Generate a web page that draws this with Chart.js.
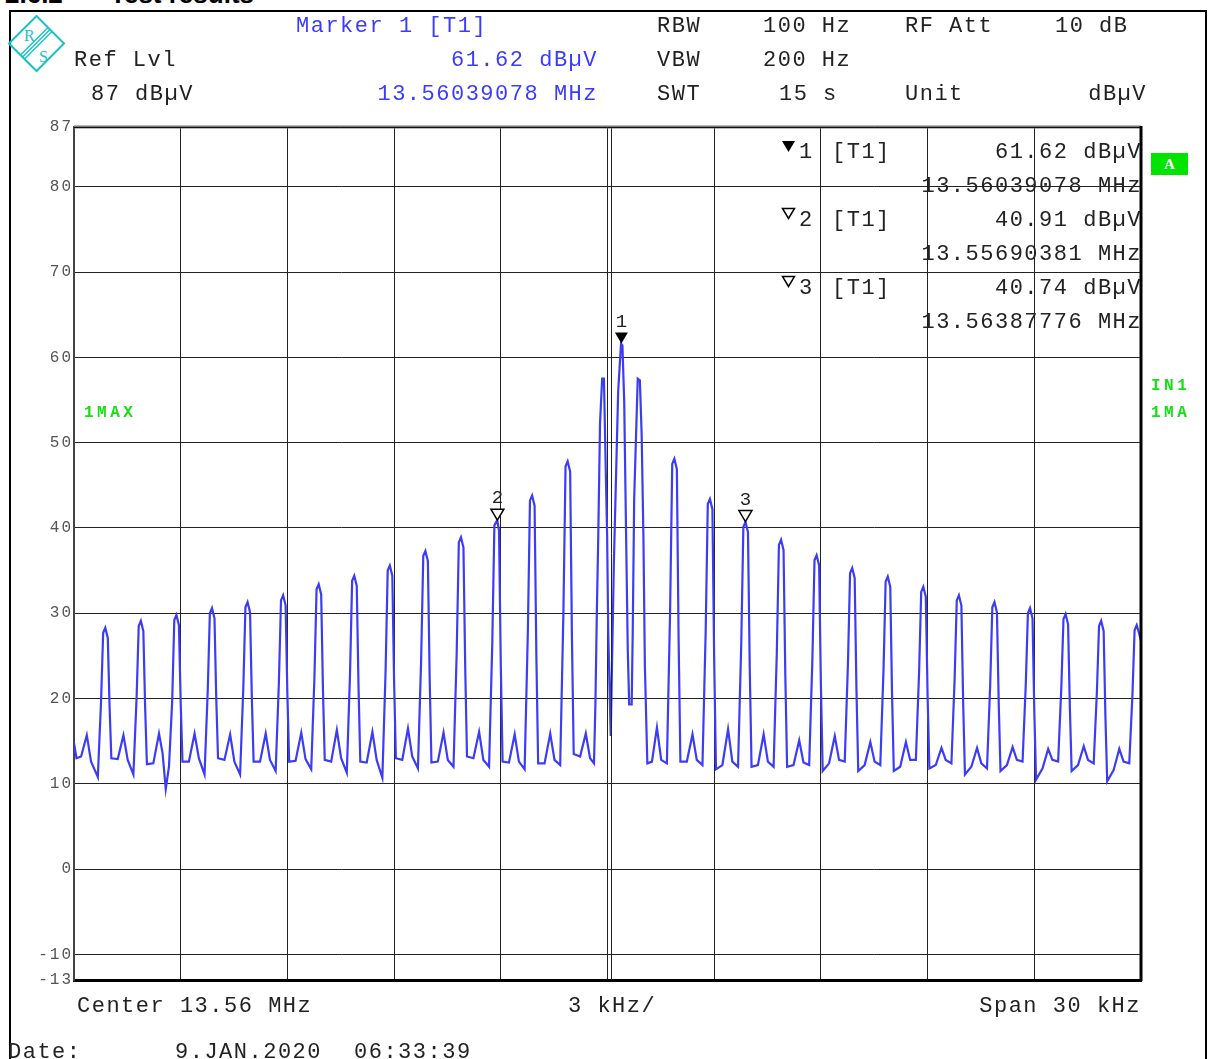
<!DOCTYPE html>
<html>
<head>
<meta charset="utf-8">
<title>Spectrum 13.56 MHz</title>
<script src="https://cdn.jsdelivr.net/npm/chart.js@4.4.1/dist/chart.umd.min.js"></script>
<style>
  body { margin: 0; background: #fff; width: 1211px; height: 1059px; overflow: hidden; position: relative; }
  #wrap { position: absolute; left: 0; top: 0; width: 1211px; height: 1059px; }
  .frame { position: absolute; left: 9px; top: 10px; width: 1194px; height: 1100px; border: 2px solid #000; }
  .title { position: absolute; top: -19px; font-family: 'Liberation Sans', Arial, sans-serif; font-weight: bold; font-size: 26px; line-height: 26px; color: #000; white-space: pre; }
  .t { position: absolute; font-family: 'Liberation Mono', monospace; font-size: 22px; letter-spacing: 1.5px; line-height: 22px; color: #222; white-space: pre; }
  .blue { color: #3b3bff; }
  .g { position: absolute; font-family: 'Liberation Mono', monospace; font-weight: bold; font-size: 16px; letter-spacing: 3.5px; line-height: 16px; color: #14e014; white-space: pre; }
  .abox { position: absolute; left: 1151px; top: 153px; width: 37px; height: 22px; background: #00e400; color: #fff; font-family: 'Liberation Serif', serif; font-weight: bold; font-size: 15px; line-height: 22px; text-align: center; }
  svg.tri { position: absolute; }
</style>
</head>
<body>
<div class="frame"></div>
<div class="title" style="left:5px">2.6.2</div>
<div class="title" style="left:110px">Test results</div>

<svg style="position:absolute;left:8px;top:15px" width="58" height="58" viewBox="0 0 58 58">
  <polygon points="28.5,1 56,28.5 28.5,56 1,28.5" fill="none" stroke="#19c3c3" stroke-width="2"/>
  <line x1="12.5" y1="40" x2="40" y2="12.5" stroke="#19c3c3" stroke-width="1.5"/>
  <line x1="14.5" y1="42" x2="42" y2="14.5" stroke="#19c3c3" stroke-width="1.5"/>
  <line x1="16.5" y1="44" x2="44" y2="16.5" stroke="#19c3c3" stroke-width="1.5"/>
  <text x="16" y="26" font-family="Liberation Serif" font-size="16" fill="#19c3c3">R</text>
  <text x="31" y="47" font-family="Liberation Serif" font-size="16" fill="#19c3c3">S</text>
</svg>

<div id="wrap"><canvas id="spectrum"></canvas></div>

<!-- header -->
<div class="t blue" style="left:296px;top:16px">Marker 1 [T1]</div>
<div class="t" style="left:657px;top:16px">RBW</div>
<div class="t" style="left:763px;top:16px">100 Hz</div>
<div class="t" style="left:905px;top:16px">RF Att</div>
<div class="t" style="left:1055px;top:16px">10 dB</div>
<div class="t" style="left:74px;top:50px">Ref Lvl</div>
<div class="t blue" style="right:613px;top:50px">61.62 dBµV</div>
<div class="t" style="left:657px;top:50px">VBW</div>
<div class="t" style="left:763px;top:50px">200 Hz</div>
<div class="t" style="left:91px;top:84px">87 dBµV</div>
<div class="t blue" style="right:613px;top:84px">13.56039078 MHz</div>
<div class="t" style="left:657px;top:84px">SWT</div>
<div class="t" style="left:779px;top:84px">15 s</div>
<div class="t" style="left:905px;top:84px">Unit</div>
<div class="t" style="right:64px;top:84px">dBµV</div>

<!-- marker table -->
<svg class="tri" style="left:781px;top:140px" width="15" height="13"><polygon points="1,1 14,1 7.5,12" fill="#000"/></svg>
<div class="t" style="left:799px;top:142px">1</div>
<div class="t" style="left:832px;top:142px">[T1]</div>
<div class="t" style="right:69px;top:142px">61.62 dBµV</div>
<div class="t" style="right:69px;top:176px">13.56039078 MHz</div>
<svg class="tri" style="left:781px;top:207px" width="15" height="13"><polygon points="1.5,1.5 13.5,1.5 7.5,11.5" fill="#fff" stroke="#000" stroke-width="1.5"/></svg>
<div class="t" style="left:799px;top:210px">2</div>
<div class="t" style="left:832px;top:210px">[T1]</div>
<div class="t" style="right:69px;top:210px">40.91 dBµV</div>
<div class="t" style="right:69px;top:244px">13.55690381 MHz</div>
<svg class="tri" style="left:781px;top:275px" width="15" height="13"><polygon points="1.5,1.5 13.5,1.5 7.5,11.5" fill="#fff" stroke="#000" stroke-width="1.5"/></svg>
<div class="t" style="left:799px;top:278px">3</div>
<div class="t" style="left:832px;top:278px">[T1]</div>
<div class="t" style="right:69px;top:278px">40.74 dBµV</div>
<div class="t" style="right:69px;top:312px">13.56387776 MHz</div>

<!-- side labels -->
<div class="g" style="left:84px;top:405px">1MAX</div>
<div class="abox">A</div>
<div class="g" style="left:1151px;top:378px">IN1</div>
<div class="g" style="left:1151px;top:405px">1MA</div>

<!-- footer -->
<div class="t" style="left:77px;top:996px">Center 13.56 MHz</div>
<div class="t" style="left:568px;top:996px">3 kHz/</div>
<div class="t" style="right:70px;top:996px">Span 30 kHz</div>
<div class="t" style="left:8px;top:1042px">Date:</div>
<div class="t" style="left:175px;top:1042px">9.JAN.2020</div>
<div class="t" style="left:354px;top:1042px">06:33:39</div>

<script>
// trace: [offset from 13.56 MHz in kHz, level in dBµV]
const tracePoints = [
  [-15.00,14.8],[-14.93,13.0],[-14.80,13.2],[-14.64,15.7],[-14.52,12.6],
  [-14.33,10.8],[-14.24,19.6],[-14.18,27.7],[-14.12,28.3],[-14.05,27.1],[-14.00,19.1],[-13.95,13.0],[-13.77,12.9],[-13.61,15.7],[-13.49,12.8],
  [-13.33,11.1],[-13.24,20.1],[-13.18,28.5],[-13.12,29.1],[-13.05,27.9],[-13.00,19.0],[-12.95,12.3],[-12.77,12.4],[-12.61,15.9],[-12.51,13.6],
  [-12.42,9.4],[-12.33,12.0],[-12.24,19.6],[-12.18,29.2],[-12.12,29.8],[-12.05,28.6],[-12.00,19.5],[-11.95,12.6],[-11.77,12.6],[-11.61,15.9],[-11.49,13.0],
  [-11.33,11.1],[-11.24,20.9],[-11.18,30.0],[-11.12,30.6],[-11.05,29.4],[-11.00,20.0],[-10.95,13.0],[-10.77,12.8],[-10.61,15.8],[-10.49,12.6],
  [-10.33,11.1],[-10.24,21.2],[-10.18,30.7],[-10.12,31.3],[-10.05,30.1],[-10.00,20.1],[-9.95,12.6],[-9.77,12.6],[-9.61,15.9],[-9.49,12.8],
  [-9.33,11.5],[-9.24,21.8],[-9.18,31.5],[-9.12,32.1],[-9.05,30.9],[-9.00,20.4],[-8.95,12.6],[-8.77,12.7],[-8.61,16.0],[-8.49,12.9],
  [-8.33,11.7],[-8.24,22.5],[-8.18,32.8],[-8.12,33.4],[-8.05,32.2],[-8.00,21.0],[-7.95,12.8],[-7.77,12.6],[-7.61,16.3],[-7.49,13.0],
  [-7.33,11.3],[-7.24,22.8],[-7.18,33.8],[-7.12,34.4],[-7.05,33.2],[-7.00,21.3],[-6.95,12.6],[-6.77,12.5],[-6.61,16.1],[-6.49,12.8],
  [-6.33,10.7],[-6.24,23.1],[-6.18,35.0],[-6.12,35.6],[-6.05,34.4],[-6.00,22.0],[-5.95,13.0],[-5.77,12.8],[-5.61,16.5],[-5.49,13.2],
  [-5.33,11.8],[-5.24,24.5],[-5.18,36.7],[-5.12,37.3],[-5.05,36.1],[-5.00,22.4],[-4.95,12.5],[-4.77,12.6],[-4.61,16.0],[-4.49,12.8],
  [-4.33,12.0],[-4.24,25.4],[-4.18,38.3],[-4.12,38.9],[-4.05,37.7],[-4.00,23.5],[-3.95,13.2],[-3.77,13.0],[-3.61,16.1],[-3.49,12.8],
  [-3.33,12.0],[-3.24,26.4],[-3.18,40.3],[-3.10,40.9],[-3.05,39.7],[-3.00,23.9],[-2.95,12.6],[-2.77,12.5],[-2.61,15.8],[-2.49,12.6],
  [-2.33,11.7],[-2.24,27.7],[-2.18,43.2],[-2.12,43.8],[-2.05,42.6],[-2.00,25.0],[-1.95,12.4],[-1.77,12.4],[-1.61,15.9],[-1.49,12.8],
  [-1.33,12.2],[-1.24,30.0],[-1.18,47.2],[-1.12,47.8],[-1.05,46.6],[-1.00,27.2],[-0.95,13.5],[-0.77,13.2],[-0.61,15.9],[-0.49,13.0],
  [-0.38,12.4],[-0.34,19.3],[-0.30,30.0],[-0.26,39.0],[-0.21,52.3],[-0.15,57.5],[-0.10,57.5],[-0.05,47.0],[-0.01,39.0],[0.02,28.0],
  [0.09,15.6],[0.18,36.0],[0.30,56.0],[0.38,61.6],[0.42,61.4],[0.47,54.8],[0.52,40.0],[0.57,25.7],[0.61,19.3],[0.68,19.3],
  [0.71,28.0],[0.75,43.4],[0.85,57.5],[0.91,57.3],[0.96,51.0],[1.01,39.0],[1.05,24.0],[1.12,12.4],[1.25,12.6],[1.39,16.6],[1.51,12.8],
  [1.67,12.4],[1.76,30.2],[1.82,47.5],[1.88,48.1],[1.95,46.9],[2.00,26.8],[2.05,12.6],[2.23,12.6],[2.39,15.8],[2.51,12.8],
  [2.67,12.2],[2.76,27.8],[2.82,42.8],[2.88,43.4],[2.95,42.2],[3.00,24.4],[3.05,11.7],[3.23,12.2],[3.39,16.4],[3.51,12.6],
  [3.67,12.0],[3.76,26.3],[3.82,40.1],[3.88,40.7],[3.95,39.5],[4.00,23.5],[4.05,12.0],[4.23,12.2],[4.39,15.8],[4.51,12.6],
  [4.67,12.0],[4.76,25.3],[4.82,38.0],[4.88,38.6],[4.95,37.4],[5.00,22.6],[5.05,12.0],[5.23,12.2],[5.39,15.1],[5.51,12.5],
  [5.67,12.2],[5.76,24.5],[5.82,36.2],[5.88,36.8],[5.95,35.6],[6.00,21.6],[6.05,11.5],[6.23,12.4],[6.39,15.6],[6.51,12.8],
  [6.67,12.6],[6.76,24.0],[6.82,34.7],[6.88,35.3],[6.95,34.1],[7.00,21.0],[7.05,11.5],[7.23,12.2],[7.39,14.9],[7.51,12.6],
  [7.67,12.2],[7.76,23.3],[7.82,33.7],[7.88,34.3],[7.95,33.1],[8.00,20.6],[8.05,11.5],[8.23,12.0],[8.39,14.9],[8.51,12.8],
  [8.67,12.8],[8.76,23.0],[8.82,32.5],[8.88,33.1],[8.95,31.9],[9.00,20.3],[9.05,11.8],[9.23,12.2],[9.39,14.2],[9.51,12.8],
  [9.67,12.4],[9.76,22.3],[9.82,31.5],[9.88,32.1],[9.95,30.9],[10.00,19.5],[10.05,11.1],[10.23,12.0],[10.39,14.2],[10.51,12.4],
  [10.67,11.8],[10.76,21.6],[10.82,30.7],[10.88,31.3],[10.95,30.1],[11.00,19.4],[11.05,11.5],[11.23,12.2],[11.39,14.3],[11.51,12.8],
  [11.67,12.6],[11.76,21.6],[11.82,30.0],[11.88,30.6],[11.95,29.4],[12.00,18.5],[12.05,10.5],[12.23,11.8],[12.39,14.1],[12.51,12.8],
  [12.67,12.6],[12.76,21.3],[12.82,29.3],[12.88,29.9],[12.95,28.7],[13.00,18.9],[13.05,11.5],[13.23,12.2],[13.39,14.4],[13.51,12.8],
  [13.67,12.4],[13.76,20.8],[13.82,28.5],[13.88,29.1],[13.95,27.9],[14.00,17.8],[14.05,10.3],[14.23,11.6],[14.39,14.1],[14.51,12.6],
  [14.67,12.4],[14.76,20.5],[14.82,28.0],[14.88,28.6],[14.95,27.6],[15.00,26.7]
];

// markers (offset kHz from centre, level dBµV)
const markerNames = ['1', '2', '3'];
const markerKHz = [0.39078, -3.09619, 3.87776];
const markerLevels = [61.62, 40.91, 40.74];
const markerFilled = [true, false, false];

// axis ticks
const yTickValues = [87, 80, 70, 60, 50, 40, 30, 20, 10, 0, -10, -13];
const spanKHz = [-15, 15];
const divKHz = 3;

/**
 * Draws plot frame extras and the trace markers
 */
const analyzerPlugin = {
    id: 'analyzer',
    beforeDraw(chart) {
        // letter spaced tick labels like the instrument font
        chart.ctx.letterSpacing = '2px';
    },
    beforeDatasetsDraw(chart) {
        chart.ctx.letterSpacing = '0px';
    },
    afterDatasetsDraw(chart) {
        const ctx = chart.ctx;
        const area = chart.chartArea;
        const xs = chart.scales.x;
        const ys = chart.scales.y;

        ctx.save();
        // double centre line
        const cx = Math.round(xs.getPixelForValue(0)) + 3.5;
        ctx.strokeStyle = '#222';
        ctx.lineWidth = 1;
        ctx.beginPath();
        ctx.moveTo(cx, area.top);
        ctx.lineTo(cx, area.bottom);
        ctx.stroke();

        // top edge (double grey line)
        ctx.strokeStyle = '#777';
        ctx.lineWidth = 3;
        ctx.beginPath();
        ctx.moveTo(area.left, area.top);
        ctx.lineTo(area.right, area.top);
        ctx.stroke();
        ctx.strokeStyle = '#111';
        ctx.lineWidth = 1;
        ctx.beginPath();
        ctx.moveTo(area.left, area.top + 0.5);
        ctx.lineTo(area.right, area.top + 0.5);
        ctx.stroke();

        // right edge (thick)
        ctx.strokeStyle = '#000';
        ctx.lineWidth = 3;
        ctx.beginPath();
        ctx.moveTo(area.right, area.top - 1);
        ctx.lineTo(area.right, area.bottom + 1);
        ctx.stroke();

        // markers
        ctx.font = '19px "Liberation Mono", monospace';
        ctx.textAlign = 'center';
        ctx.textBaseline = 'middle';
        for (let i = 0; i < markerNames.length; i++) {
            const px = xs.getPixelForValue(markerKHz[i]);
            const py = ys.getPixelForValue(markerLevels[i]);
            ctx.beginPath();
            ctx.moveTo(px, py);
            ctx.lineTo(px - 6.5, py - 11);
            ctx.lineTo(px + 6.5, py - 11);
            ctx.closePath();
            if (markerFilled[i]) {
                ctx.fillStyle = '#000';
                ctx.fill();
            } else {
                ctx.fillStyle = '#fff';
                ctx.fill();
                ctx.strokeStyle = '#000';
                ctx.lineWidth = 1.5;
                ctx.stroke();
            }
            ctx.fillStyle = '#222';
            ctx.fillText(markerNames[i], px, py - 22);
        }
        ctx.restore();
    }
};

document.addEventListener('DOMContentLoaded', function() {
    const ctx = document.getElementById('spectrum');

    new Chart(ctx, {
        type: 'line',
        data: {
            datasets: [
                {
                    label: '1MAX',
                    data: tracePoints.map(p => ({ x: p[0], y: p[1] })),
                    borderColor: '#3c3cf5',
                    borderWidth: 2.2,
                    pointRadius: 0,
                    tension: 0,
                    fill: false
                }
            ]
        },
        options: {
            animation: false,
            responsive: true,
            maintainAspectRatio: false,
            layout: {
                padding: { top: 127, right: 70, left: 0, bottom: 0 }
            },
            plugins: {
                legend: { display: false },
                tooltip: { enabled: false }
            },
            scales: {
                x: {
                    type: 'linear',
                    min: spanKHz[0],
                    max: spanKHz[1],
                    ticks: { display: false, stepSize: divKHz },
                    grid: { color: '#222', lineWidth: 1, drawTicks: false },
                    border: { display: true, color: '#000', width: 3 },
                    afterFit: function(scale) {
                        scale.height = 79;
                    }
                },
                y: {
                    min: yTickValues[yTickValues.length - 1],
                    max: yTickValues[0],
                    afterBuildTicks: function(scale) {
                        scale.ticks = yTickValues.map(v => ({ value: v }));
                    },
                    ticks: {
                        color: '#555',
                        font: { family: 'Liberation Mono', size: 16 },
                        padding: 1,
                        autoSkip: false
                    },
                    grid: { color: '#222', lineWidth: 1, drawTicks: false },
                    border: { display: true, color: '#444', width: 2 },
                    afterFit: function(scale) {
                        scale.width = 74;
                    }
                }
            }
        },
        plugins: [analyzerPlugin]
    });
});
</script>
</body>
</html>
